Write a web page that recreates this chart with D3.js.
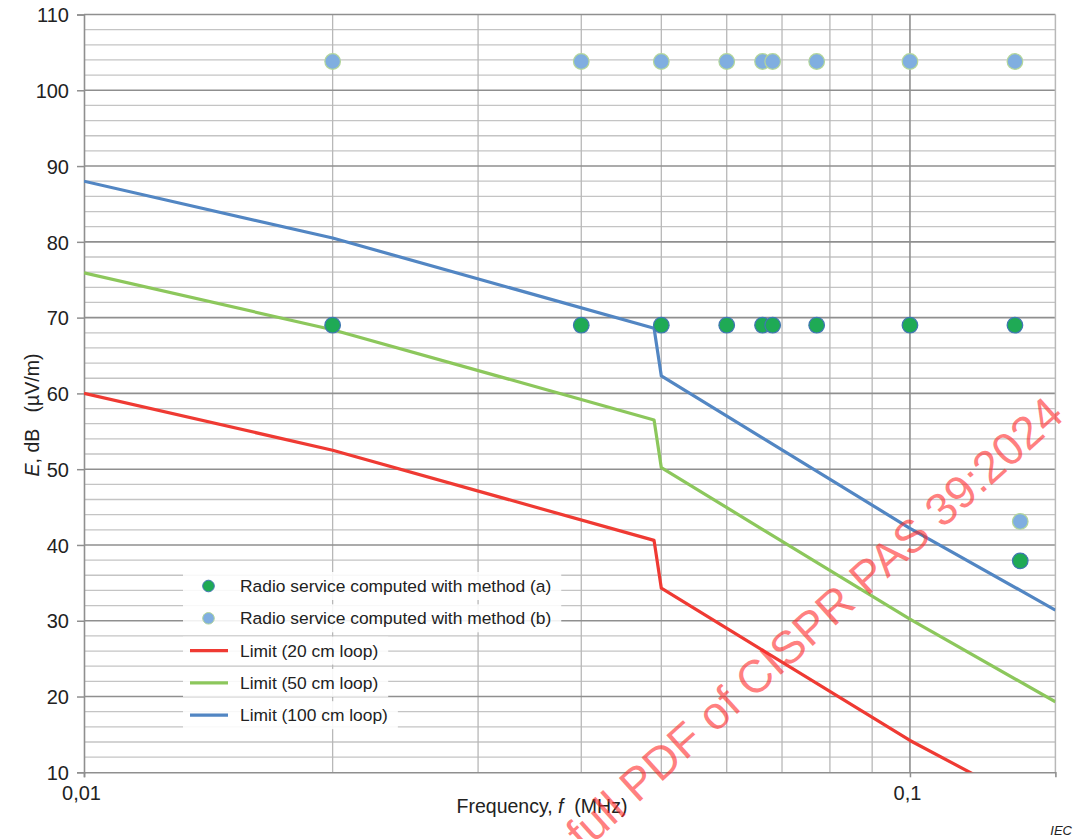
<!DOCTYPE html>
<html>
<head>
<meta charset="utf-8">
<script src="https://cdn.jsdelivr.net/npm/d3@7"></script>
<style>
  html, body { margin: 0; padding: 0; background: #ffffff; }
  svg { display: block; font-family: "Liberation Sans", Arial, Helvetica, sans-serif; }
</style>
</head>
<body>
<svg id="chart" width="1080" height="839"></svg>
<script>
// Limit curves (frequency in MHz, field strength in dB(µV/m))
const limitFreqs = [0.01, 0.02, 0.049, 0.05, 0.1, 0.15];
const limit20cm  = [60.0, 52.5, 40.6, 34.3, 14.2, 4.0];
const limit50cm  = [75.9, 68.4, 56.5, 50.2, 30.2, 19.3];
const limit100cm = [88.0, 80.5, 68.6, 62.3, 42.2, 31.4];

// Radio services
const serviceFreqs = [0.02, 0.04, 0.05, 0.06, 0.0663, 0.0682, 0.0771, 0.1, 0.134, 0.136];
const methodA      = [69, 69, 69, 69, 69, 69, 69, 69, 69, 37.9];
const methodB      = [103.8, 103.8, 103.8, 103.8, 103.8, 103.8, 103.8, 103.8, 103.8, 43.1];

// Axes
const xTickValues = [0.01, 0.1];
const xTickLabels = ["0,01", "0,1"];
const xGridValues = [0.02, 0.03, 0.04, 0.05, 0.06, 0.07, 0.08, 0.09, 0.1];
const yTickValues = [10, 20, 30, 40, 50, 60, 70, 80, 90, 100, 110];

const legendLabels = [
  "Radio service computed with method (a)",
  "Radio service computed with method (b)",
  "Limit (20 cm loop)",
  "Limit (50 cm loop)",
  "Limit (100 cm loop)"
];

const colors = {
  red: "#ef3a33", green: "#8cc75c", blue: "#5286c3",
  dotA: "#1faa55", dotAStroke: "#3f76b3",
  dotB: "#80aee0", dotBStroke: "#b3d69a"
};

const svg = d3.select("#chart");
const plot = { left: 84, right: 1055.4, top: 14.5, bottom: 772.3 };

const x = d3.scaleLog().domain([0.01, 0.15]).range([plot.left, plot.right]);
const y = d3.scaleLinear().domain([10, 110]).range([plot.bottom, plot.top]);

svg.append("defs").append("clipPath").attr("id", "plotClip")
  .append("rect")
  .attr("x", plot.left).attr("y", plot.top)
  .attr("width", plot.right - plot.left).attr("height", plot.bottom - plot.top);

// Horizontal grid: every 2 dB, darker every 10 dB
const hGrid = d3.range(12, 110, 2).filter(v => v % 10 !== 0);
svg.append("g").selectAll("line").data(hGrid).join("line")
  .attr("x1", plot.left).attr("x2", plot.right)
  .attr("y1", d => y(d)).attr("y2", d => y(d))
  .attr("stroke", "#c4c4c4").attr("stroke-width", 1.3);

// Vertical grid
svg.append("g").selectAll("line").data(xGridValues).join("line")
  .attr("x1", d => x(d)).attr("x2", d => x(d))
  .attr("y1", plot.top).attr("y2", plot.bottom)
  .attr("stroke", d => d === 0.1 ? "#8f8f8f" : "#b8b8b8")
  .attr("stroke-width", d => d === 0.1 ? 1.6 : 1.3);

svg.append("g").selectAll("line").data(yTickValues.filter(v => v !== 10)).join("line")
  .attr("x1", plot.left).attr("x2", plot.right)
  .attr("y1", d => y(d)).attr("y2", d => y(d))
  .attr("stroke", "#8f8f8f").attr("stroke-width", 1.6);

// Right border
svg.append("line")
  .attr("x1", plot.right).attr("x2", plot.right)
  .attr("y1", plot.top).attr("y2", plot.bottom)
  .attr("stroke", "#b8b8b8").attr("stroke-width", 1.5);

// Y axis
const yAxis = d3.axisLeft(y).tickValues(yTickValues).tickSize(7).tickPadding(8).tickFormat(d3.format("d"));
const gy = svg.append("g").attr("transform", `translate(${plot.left},0)`).call(yAxis);
gy.select(".domain").attr("stroke", "#8f8f8f").attr("stroke-width", 1.6);
gy.selectAll(".tick line").attr("stroke", "#8f8f8f").attr("stroke-width", 1.5);
gy.selectAll(".tick text")
  .attr("font-size", 20).attr("fill", "#222").attr("font-family", "Liberation Sans, Arial, sans-serif")
  .attr("dy", "0.36em");

// X axis
const xAxis = d3.axisBottom(x).tickValues(xTickValues).tickSize(5).tickPadding(8)
  .tickFormat((d, i) => xTickLabels[i]);
const gx = svg.append("g").attr("transform", `translate(0,${plot.bottom})`).call(xAxis);
gx.select(".domain").attr("stroke", "#8f8f8f").attr("stroke-width", 1.6);
gx.selectAll(".tick line").attr("stroke", "#8f8f8f").attr("stroke-width", 1.5);
gx.selectAll(".tick text")
  .attr("font-size", 20).attr("fill", "#222").attr("font-family", "Liberation Sans, Arial, sans-serif")
  .attr("x", -3).attr("dy", "0.72em");

// Axis titles
const xTitle = svg.append("text")
  .attr("x", 542).attr("y", 813).attr("text-anchor", "middle")
  .attr("font-size", 19.5).attr("fill", "#222");
xTitle.append("tspan").text("Frequency, ");
xTitle.append("tspan").attr("font-style", "italic").text("f");
xTitle.append("tspan").attr("xml:space", "preserve").text("  (MHz)");

const yTitle = svg.append("text")
  .attr("transform", "translate(39,415) rotate(-90)").attr("text-anchor", "middle")
  .attr("font-size", 19.5).attr("fill", "#222");
yTitle.append("tspan").attr("font-style", "italic").text("E");
yTitle.append("tspan").attr("xml:space", "preserve").text(", dB   (µV/m)");

// Limit lines
const line = d3.line().x(d => x(d[0])).y(d => y(d[1]));
const limits = [
  { vals: limit20cm, color: colors.red },
  { vals: limit50cm, color: colors.green },
  { vals: limit100cm, color: colors.blue }
];
const gLines = svg.append("g").attr("clip-path", "url(#plotClip)");
limits.forEach(l => {
  gLines.append("path")
    .datum(limitFreqs.map((f, i) => [f, l.vals[i]]))
    .attr("d", line)
    .attr("fill", "none")
    .attr("stroke", l.color)
    .attr("stroke-width", 3.2)
    .attr("stroke-linejoin", "round");
});

// Radio service points
const gPts = svg.append("g");
gPts.selectAll("circle.b").data(serviceFreqs.map((f, i) => [f, methodB[i]])).join("circle")
  .attr("class", "b")
  .attr("cx", d => x(d[0])).attr("cy", d => y(d[1])).attr("r", 7.8)
  .attr("fill", colors.dotB).attr("stroke", colors.dotBStroke).attr("stroke-width", 1.2);
gPts.selectAll("circle.a").data(serviceFreqs.map((f, i) => [f, methodA[i]])).join("circle")
  .attr("class", "a")
  .attr("cx", d => x(d[0])).attr("cy", d => y(d[1])).attr("r", 7.8)
  .attr("fill", colors.dotA).attr("stroke", colors.dotAStroke).attr("stroke-width", 1.2);

// Legend
const legendX = 183, legendY0 = 586, legendStep = 32.3;
const gLeg = svg.append("g");
legendLabels.forEach((label, i) => {
  const cy = legendY0 + i * legendStep;
  const row = gLeg.append("g");
  const bg = row.append("rect").attr("fill", "#ffffff").attr("fill-opacity", 0.88);
  const t = row.append("text")
    .attr("x", 240).attr("y", cy).attr("dy", "0.35em")
    .attr("font-size", 17.4).attr("fill", "#222").text(label);
  const w = t.node().getComputedTextLength();
  bg.attr("x", legendX).attr("y", cy - 14).attr("width", 240 + w + 10 - legendX).attr("height", 28);
  if (i < 2) {
    row.append("circle").attr("cx", 208.5).attr("cy", cy).attr("r", 5.8)
      .attr("fill", i === 0 ? colors.dotA : colors.dotB)
      .attr("stroke", i === 0 ? colors.dotAStroke : colors.dotBStroke).attr("stroke-width", 1);
  } else {
    row.append("line").attr("x1", 190).attr("x2", 228).attr("y1", cy).attr("y2", cy)
      .attr("stroke", [colors.red, colors.green, colors.blue][i - 2]).attr("stroke-width", 3.2);
  }
});

// Document watermark
svg.append("text")
  .attr("transform", "translate(1066,418) rotate(-42)")
  .attr("text-anchor", "end")
  .attr("font-size", 46)
  .attr("fill", "#ff2a2a").attr("fill-opacity", 0.6)
  .text("Click to view the full PDF of CISPR PAS 39:2024");

// Source tag
svg.append("text")
  .attr("x", 1072).attr("y", 835).attr("text-anchor", "end")
  .attr("font-size", 13).attr("font-style", "italic").attr("fill", "#222")
  .text("IEC");
</script>
</body>
</html>
